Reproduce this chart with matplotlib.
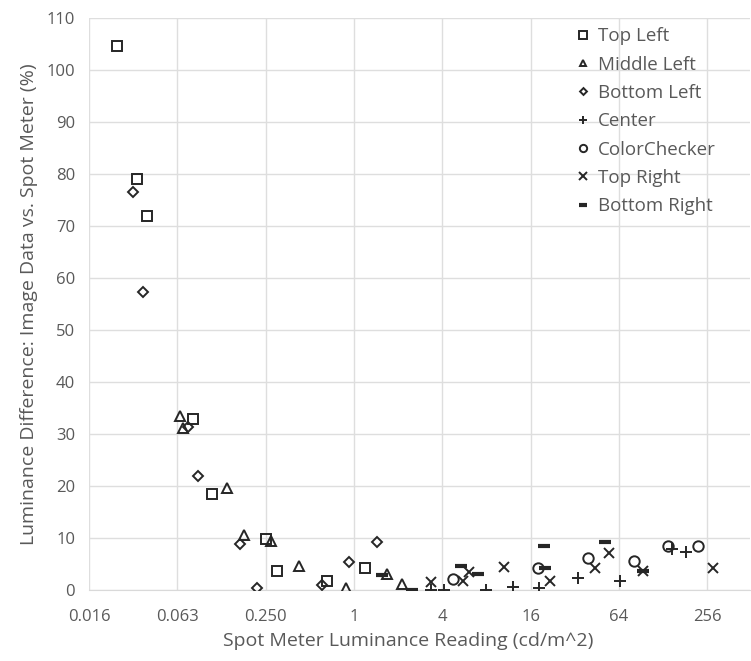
import matplotlib.pyplot as plt

plt.rcParams["font.family"] = ["Open Sans", "DejaVu Sans"]

# Spot meter reading (cd/m^2) and luminance difference (%) per patch location
top_left_x = [0.0242, 0.0333, 0.039, 0.0797, 0.107, 0.25, 0.30, 0.652, 1.197]
top_left_y = [104.6, 79.0, 71.9, 32.9, 18.5, 9.8, 3.65, 1.7, 4.3]

middle_left_x = [0.0655, 0.0686, 0.136, 0.178, 0.27, 0.42, 0.883, 1.69, 2.13]
middle_left_y = [33.5, 31.1, 19.7, 10.5, 9.4, 4.6, 0.45, 3.0, 1.1]

bottom_left_x = [0.031, 0.0363, 0.0743, 0.0866, 0.167, 0.217, 0.603, 0.92, 1.444]
bottom_left_y = [76.6, 57.4, 31.3, 21.9, 8.8, 0.3, 1.0, 5.4, 9.3]

center_x = [3.35, 4.08, 7.92, 12.2, 18.1, 33.8, 64.5, 147, 183]
center_y = [0.0, 0.0, 0.0, 0.65, 0.3, 2.25, 1.7, 7.9, 7.3]

colorchecker_x = [4.69, 17.9, 39.1, 81.2, 137, 222]
colorchecker_y = [2.05, 4.2, 6.1, 5.65, 8.5, 8.5]

top_right_x = [3.35, 5.54, 6.06, 10.56, 21.7, 43.6, 54.6, 93, 278]
top_right_y = [1.5, 1.7, 3.4, 4.4, 1.8, 4.2, 7.1, 3.6, 4.2]

bottom_right_x = [1.55, 2.49, 5.35, 6.97, 19.6, 20.1, 51, 93]
bottom_right_y = [2.8, 0.0, 4.55, 3.1, 8.4, 4.3, 9.2, 3.6]

xticks = [2 ** -6, 2 ** -4, 2 ** -2, 1, 4, 16, 64, 256]
xtick_labels = ["0.016", "0.063", "0.250", "1", "4", "16", "64", "256"]
yticks = list(range(0, 111, 10))

gray = "#595959"
ink = "#262626"

fig = plt.figure(figsize=(7.51, 6.61), dpi=100)
ax = fig.add_axes([89 / 751, 1 - 590 / 661, 1 - 89 / 751 - 0.001, (590 - 18) / 661])

series = [
    (top_left_x, top_left_y, "s", "Top Left", 7.5),
    (middle_left_x, middle_left_y, "^", "Middle Left", 7),
    (bottom_left_x, bottom_left_y, "D", "Bottom Left", 5),
    (center_x, center_y, "+", "Center", 8),
    (colorchecker_x, colorchecker_y, "o", "ColorChecker", 7.5),
    (top_right_x, top_right_y, "x", "Top Right", 7.5),
    (bottom_right_x, bottom_right_y, "_", "Bottom Right", 9),
]
for xs, ys, m, label, ms in series:
    mew = 3 if m == "_" else 1.4
    ax.plot(xs, ys, linestyle="none", marker=m, markersize=ms,
            markerfacecolor="none" if m not in "+x_" else ink,
            markeredgecolor=ink, markeredgewidth=mew, label=label, zorder=3)

ax.set_xscale("log", base=2)
ax.set_xlim(2 ** -6, 2 ** 8.97)
ax.set_ylim(0, 110)
ax.set_xticks(xticks)
ax.set_xticklabels(xtick_labels)
ax.set_yticks(yticks)
ax.minorticks_off()
ax.tick_params(axis="both", length=0, labelsize=12, labelcolor=gray)
ax.tick_params(axis="x", pad=14)
ax.tick_params(axis="y", pad=10)

ax.grid(True, color="#dedede", linewidth=1)
ax.set_axisbelow(True)
for side in ["top", "right", "left"]:
    ax.spines[side].set_visible(False)
ax.spines["bottom"].set_color("#d9d9d9")

ax.set_xlabel("Spot Meter Luminance Reading (cd/m^2)", fontsize=14, color=gray)
ax.xaxis.set_label_coords(0.482, -0.073)
ax.set_ylabel("Luminance Difference: Image Data vs. Spot Meter (%)", fontsize=14, color=gray, labelpad=6)

leg = ax.legend(loc="upper left", bbox_to_anchor=((568 - 89) / 661, 1.0), frameon=False, fontsize=13.5,
                labelcolor=gray, markerscale=0.7, handlelength=0.6, handletextpad=0.5,
                labelspacing=0.55, borderaxespad=0.1)

fig.savefig("out.png", dpi=100)
